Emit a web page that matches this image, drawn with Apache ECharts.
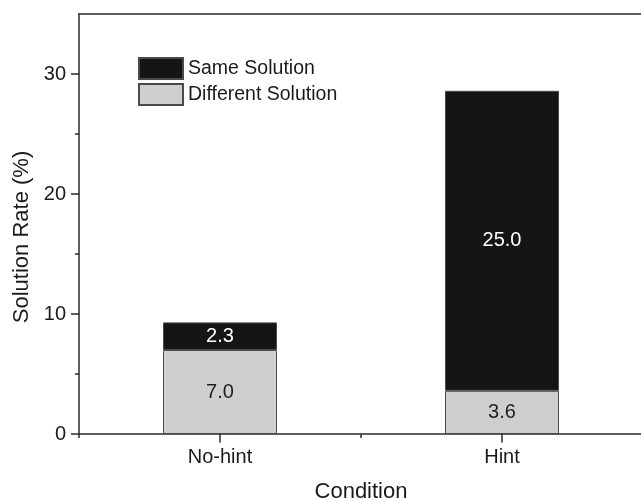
<!DOCTYPE html>
<html>
<head>
<meta charset="utf-8">
<script src="https://cdn.jsdelivr.net/npm/echarts@6/dist/echarts.min.js"></script>
<style>html,body{margin:0;padding:0;background:#fff;}#c{width:641px;height:501px;}</style>
</head>
<body>
<div id="c"></div>
<script>
const categories = ['No-hint', 'Hint'];
const differentSolution = [7.0, 3.6];
const sameSolution = [2.3, 25.0];
const seriesNames = ['Same Solution', 'Different Solution'];

const FONT = 'Liberation Sans, Arial, sans-serif';
const LINE = { color: '#2a2a2a', width: 1.5 };

const chart = echarts.init(document.getElementById('c'));
const G = { left: 79, width: 564, outerBoundsMode: 'none', containLabel: false };
chart.setOption({
  animation: false,
  backgroundColor: '#ffffff',
  textStyle: { fontFamily: FONT },
  grid: [
    Object.assign({ top: 14, bottom: 67 }, G),
    Object.assign({ top: 14, bottom: 67 }, G),
    Object.assign({ top: 74, bottom: 67 }, G),
    Object.assign({}, G, { left: 79 + 141, width: 282, top: 434, height: 8 })
  ],
  legend: {
    orient: 'vertical', left: 138, top: 57, padding: 0,
    itemWidth: 44, itemHeight: 21, itemGap: 3, icon: 'rect',
    data: seriesNames,
    textStyle: { fontSize: 19.5, color: '#1a1a1a', fontFamily: FONT }
  },
  xAxis: [
    { type: 'category', gridIndex: 0, position: 'bottom', data: categories,
      axisLine: { show: true, lineStyle: LINE },
      axisTick: { show: false },
      axisLabel: { fontSize: 20, color: '#1a1a1a', margin: 13, fontFamily: FONT },
      name: 'Condition', nameLocation: 'middle', nameGap: 47,
      nameTextStyle: { fontSize: 22, color: '#1a1a1a', fontFamily: FONT } },
    { type: 'category', gridIndex: 0, position: 'top', data: categories,
      axisLine: { show: true, lineStyle: LINE },
      axisTick: { show: false }, axisLabel: { show: false } },
    { type: 'category', gridIndex: 1, position: 'bottom', data: categories,
      axisLine: { show: false },
      axisTick: { show: true, length: 4, lineStyle: LINE }, axisLabel: { show: false } },
    { type: 'category', gridIndex: 2, data: categories, show: false },
    { type: 'category', gridIndex: 3, data: categories, show: false }
  ],
  yAxis: [
    { type: 'value', gridIndex: 0, min: 0, max: 35,
      axisLine: { show: true, lineStyle: LINE },
      axisTick: { show: false }, axisLabel: { show: false }, splitLine: { show: false },
      name: 'Solution Rate (%)', nameLocation: 'middle', nameGap: 46,
      nameTextStyle: { fontSize: 22, color: '#1a1a1a', fontFamily: FONT, padding: [0, 26, 0, 0] } },
    { type: 'value', gridIndex: 1, min: 0, max: 35, show: false },
    { type: 'value', gridIndex: 2, min: 0, max: 30, interval: 10,
      axisLine: { show: false },
      axisTick: { show: true, length: 8, lineStyle: LINE },
      minorTick: { show: true, splitNumber: 2, length: 4, lineStyle: LINE },
      axisLabel: { fontSize: 20, color: '#1a1a1a', margin: 13, fontFamily: FONT },
      splitLine: { show: false } },
    { type: 'value', gridIndex: 3, position: 'left', min: 0, max: 1, z: 50,
      axisLine: { show: true, lineStyle: LINE },
      axisTick: { show: false }, axisLabel: { show: false }, splitLine: { show: false } },
    { type: 'value', gridIndex: 3, position: 'right', min: 0, max: 1, z: 50,
      axisLine: { show: true, lineStyle: LINE },
      axisTick: { show: false }, axisLabel: { show: false }, splitLine: { show: false } }
  ],
  series: [
    { name: 'Different Solution', type: 'bar', stack: 's', xAxisIndex: 0, yAxisIndex: 0,
      barWidth: 114, data: differentSolution,
      itemStyle: { color: '#cfcfcf', borderColor: '#4a4a4a', borderWidth: 1 },
      label: { show: true, position: 'inside', color: '#1f1f1f', fontSize: 20, fontFamily: FONT,
        formatter: p => p.value.toFixed(1) } },
    { name: 'Same Solution', type: 'bar', stack: 's', xAxisIndex: 0, yAxisIndex: 0,
      barWidth: 114, data: sameSolution,
      itemStyle: { color: '#151515', borderColor: '#4a4a4a', borderWidth: 1 },
      label: { show: true, position: 'inside', color: '#ffffff', fontSize: 20, fontFamily: FONT,
        formatter: p => p.value.toFixed(1) } }
  ]
});
</script>
</body>
</html>
